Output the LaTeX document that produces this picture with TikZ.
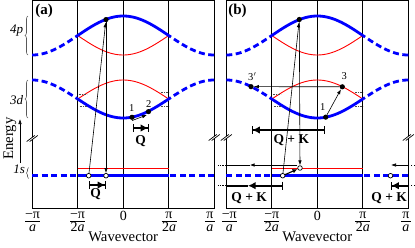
\documentclass[tikz,border=0pt]{standalone}
\usepackage{fontspec}
\setmainfont{Liberation Serif}
\usetikzlibrary{arrows.meta,decorations.pathreplacing}
\newcommand\wvtick[5]{% name, x, numerator, denominator, half bar width
  \node[xlab] (#1n) at (#2,218.3) {#3};
  \draw[fbar] (#2-#5,221) -- (#2+#5,221);
  \node[xlab] (#1d) at (#2,231.7) {#4};}
\begin{document}
\begin{tikzpicture}[x=1pt,y=-1pt,
  frame/.style={line width=0.8pt},
  gridl/.style={line width=0.8pt},
  bandS/.style={blue,line width=2.8pt},
  bandD/.style={blue,line width=2.8pt,dash pattern=on 6pt off 3.5pt},
  fold/.style={red,line width=0.9pt},
  tl/.style={line width=0.6pt},
  tip/.style={-{Latex[length=5pt,width=3.5pt]}},
  dotb/.style={circle,fill=black,inner sep=0pt,minimum size=5.2pt},
  hole/.style={circle,draw=black,fill=white,line width=0.7pt,inner sep=0pt,minimum size=4.6pt},
  num/.style={font=\fontsize{10.5}{12}\selectfont,inner sep=0pt},
  qlab/.style={font=\bfseries\fontsize{13.5}{15}\selectfont,inner sep=0pt,anchor=base},
  mom/.style={line width=1.6pt,{Bar[width=8pt,line width=0.8pt]}-{Latex[length=7.5pt,width=7.5pt]Bar[width=8pt,line width=0.8pt]}},
  momhalf/.style={line width=1.6pt,{Bar[width=8pt,line width=0.8pt]}-{Latex[length=7.5pt,width=7.5pt]}},
  xlab/.style={font=\fontsize{14}{15}\selectfont,inner sep=0pt,anchor=base},
  fbar/.style={line width=0.6pt},
  orb/.style={font=\itshape\fontsize{13}{14}\selectfont,inner sep=0pt,anchor=base},
  brc/.style={decorate,decoration={brace,amplitude=3pt},black!65,line width=0.6pt},
  gapdots/.style={black!70,line width=0.6pt,dash pattern=on 0.6pt off 1pt},
  wrapdot/.style={dash pattern=on 1.2pt off 1.6pt},
  brk/.style={line width=0.7pt},
  plab/.style={font=\bfseries\fontsize{15}{16}\selectfont,inner sep=0pt,anchor=base}
]
\useasboundingbox (0,0) rectangle (415,247);

% ---------- frames, grid lines and bands of both panels ----------
\foreach \cc in {123.2,317.3}{
  \pgfmathsetmacro\xa{\cc-91}
  \pgfmathsetmacro\xb{\cc-45.5}
  \pgfmathsetmacro\xc{\cc+45.5}
  \pgfmathsetmacro\xd{\cc+91}
  \draw[frame] (\xa,0.8) rectangle (\xd,208);
  \foreach \g in {\xb,\cc,\xc} \draw[gridl] (\g,0.8) -- (\g,208);
  % 4p
  \draw[fold] plot[domain=\xb:\xc,samples=40] (\x,{35.5+19.5*cos(180*(\x-\cc)/91)});
  \draw[bandD] plot[domain=\xa:\xb,samples=30] (\x,{35.5-19.5*cos(180*(\x-\cc)/91)});
  \draw[bandS] plot[domain=\xb:\xc,samples=40] (\x,{35.5-19.5*cos(180*(\x-\cc)/91)});
  \draw[bandD] plot[domain=\xd:\xc,samples=30] (\x,{35.5-19.5*cos(180*(\x-\cc)/91)});
  % 3d
  \draw[fold] plot[domain=\xb:\xc,samples=40] (\x,{99-19*cos(180*(\x-\cc)/91)});
  \draw[bandD] plot[domain=\xa:\xb,samples=30] (\x,{99+19*cos(180*(\x-\cc)/91)});
  \draw[bandS] plot[domain=\xb:\xc,samples=40] (\x,{99+19*cos(180*(\x-\cc)/91)});
  \draw[bandD] plot[domain=\xd:\xc,samples=30] (\x,{99+19*cos(180*(\x-\cc)/91)});
  % dotted marks near the crossings
  \draw[gapdots] (\xb+1,94.3) -- (\xb+9,94.3);
  \draw[gapdots] (\xb+2,106.6) -- (\xb+9,106.6);
  \draw[gapdots] (\xc-8,92) -- (\xc,92);
  \draw[gapdots] (\xc-8,106) -- (\xc,106);
  % 1s
  \draw[fold] (\xb,168) -- (\xc,168);
  \draw[bandD] (\xa,175.7) -- (\xb,175.7);
  \draw[bandS] (\xb,175.7) -- (\xc,175.7);
  \draw[bandD] (\xd,175.7) -- (\xc,175.7);
}

% ---------- axis breaks ----------
\foreach \bx/\by in {32.2/138.5,214.2/137.5,226.3/137.5,408.3/137.5}{
  \draw[white,line width=1.6pt] (\bx-4,\by+3) -- (\bx+4,\by-3);
  \draw[brk] (\bx-5.5,\by+3) -- (\bx+2.5,\by-3);
  \draw[brk] (\bx-2.5,\by+3) -- (\bx+5.5,\by-3);
}

% ---------- left annotations ----------
\node[orb] (l4p) at (16.7,33.3) {4p};
\node[orb] (l3d) at (16.7,104) {3d};
\node[orb] (l1s) at (19.2,173.3) {1s};
\draw[brc] (28,55) -- (28,16);
\draw[brc] (28,118) -- (28,80);
\draw[decorate,decoration={brace,amplitude=2pt},black!65,line width=0.6pt] (28.5,178.5) -- (28.5,167.5);
\node[rotate=90,font=\fontsize{14.7}{16}\selectfont,inner sep=0pt] (energy) at (10,138.5) {Energy};
\coordinate (e0) at (20,163);
\coordinate (e1) at (20,119);
\draw[tl,tip] (e0) -- (e1);

% ---------- panel (a) ----------
\node[plab] (pa) at (44,14.7) {(a)};
\node[dotb] (a4p) at (106,19.6) {};
\node[hole] (ah1) at (88.7,175.7) {};
\node[hole] (ah2) at (106,175.7) {};
\draw[tl,tip] (ah1) -- (a4p);
\draw[tl,tip] (a4p) -- (ah2);
\node[dotb] (a1) at (132,117.3) {};
\node[dotb] (a2) at (148.5,111.6) {};
\node[num] (a1l) at (131.7,108.3) {1};
\node[num] (a2l) at (148.7,103.7) {2};
\draw[tl,tip] ([yshift=-3.3pt]a1.center) -- ([xshift=-1.5pt,yshift=-3.3pt]a2.center);
\coordinate (qa1) at (132.7,128);
\coordinate (qa2) at (149,128);
\draw[mom] (qa1) -- (qa2);
\node[qlab] (qal) at (140.5,144.5) {Q};
\coordinate (qb1) at (88.7,185);
\coordinate (qb2) at (106,185);
\draw[mom] (qb1) -- (qb2);
\node[qlab] (qbl) at (95.5,197.5) {Q};

% ---------- panel (b) ----------
\node[plab] (pb) at (237.5,14.7) {(b)};
\node[dotb] (b4p) at (299.3,19.5) {};
\node[hole] (bh1) at (282.7,175.7) {};
\node[hole] (bh2) at (300,168) {};
\node[hole] (bh3) at (390.5,175.7) {};
\draw[tl,tip] (bh1) -- (b4p);
\draw[tl,tip] (b4p) -- (bh2);
\draw[line width=1.1pt,-{Latex[length=5pt,width=4.5pt]}] (bh1) -- (bh2);
\node[dotb] (b1) at (325.7,117.15) {};
\node[dotb] (b3) at (342.3,86.8) {};
\node[dotb] (b3p) at (251,86.65) {};
\node[num] (b1l) at (322.7,107.5) {1};
\node[num] (b3l) at (344.2,75.8) {3};
\node[num,anchor=base west] (b3pl) at (247.8,80) {3\kern0.3pt$'$};
\draw[tl,tip] (b1) -- (b3);
\draw[tl,tip] (b3) -- (b3p);
\coordinate (u1) at (325,130);
\coordinate (u2) at (251.5,130);
\draw[mom] (u1) -- (u2);
\node[qlab] (ul) at (291.3,143.5) {Q + K};
% thin wrap-around line
\coordinate (t0) at (297.4,165);
\coordinate (tm) at (250,165);
\coordinate (tf) at (226.3,165);
\coordinate (to) at (217.5,165);
\draw[tl,-{Latex[length=4.5pt,width=3.5pt]}] (t0) -- (tm);
\draw[tl] (tm) -- (tf);
\draw[tl,wrapdot] (tf) -- (to);
\coordinate (r0) at (415,165);
\coordinate (rf) at (408.3,165);
\coordinate (re) at (391,165);
\draw[tl,wrapdot] (r0) -- (rf);
\draw[tl,tip] (rf) -- (re);
% thick wrap-around arrow
\coordinate (k0) at (282.7,185.7);
\coordinate (km) at (248,185.7);
\coordinate (kf) at (226.3,185.7);
\coordinate (ko) at (217.5,185.7);
\draw[momhalf] (k0) -- (km);
\draw[line width=1.6pt] (km) -- (kf);
\draw[line width=1.3pt,wrapdot] (kf) -- (ko);
\coordinate (kr0) at (415,185.7);
\coordinate (krf) at (408.3,185.7);
\coordinate (kre) at (390.5,185.7);
\draw[line width=1.3pt,wrapdot] (kr0) -- (krf);
\draw[line width=1.6pt,-{Latex[length=7.5pt,width=7.5pt]Bar[width=8pt,line width=0.8pt]}] (krf) -- (kre);
\node[qlab] (kl1) at (249.2,201.5) {Q + K};
\node[qlab] (kl2) at (389.2,201.5) {Q + K};

% ---------- wavevector axis labels ----------
\wvtick{ta1}{32.5}{−π}{\itshape a}{7.5}
\wvtick{ta2}{77.5}{−π}{2\itshape a}{7.5}
\node[xlab] (ta3) at (123.3,220.3) {0};
\wvtick{ta4}{169}{π}{2\itshape a}{7.5}
\wvtick{ta5}{209.8}{π}{\itshape a}{5}
\wvtick{tb1}{229.3}{−π}{\itshape a}{7.5}
\wvtick{tb2}{271.8}{−π}{2\itshape a}{7.5}
\node[xlab] (tb3) at (317.3,220.3) {0};
\wvtick{tb4}{362.8}{π}{2\itshape a}{7.5}
\wvtick{tb5}{405.8}{π}{\itshape a}{5}
\node[xlab,font=\fontsize{14.7}{16}\selectfont] (wva) at (123.2,241.7) {Wavevector};
\node[xlab,font=\fontsize{14.7}{16}\selectfont] (wvb) at (317.3,241.7) {Wavevector};
\end{tikzpicture}
\end{document}
